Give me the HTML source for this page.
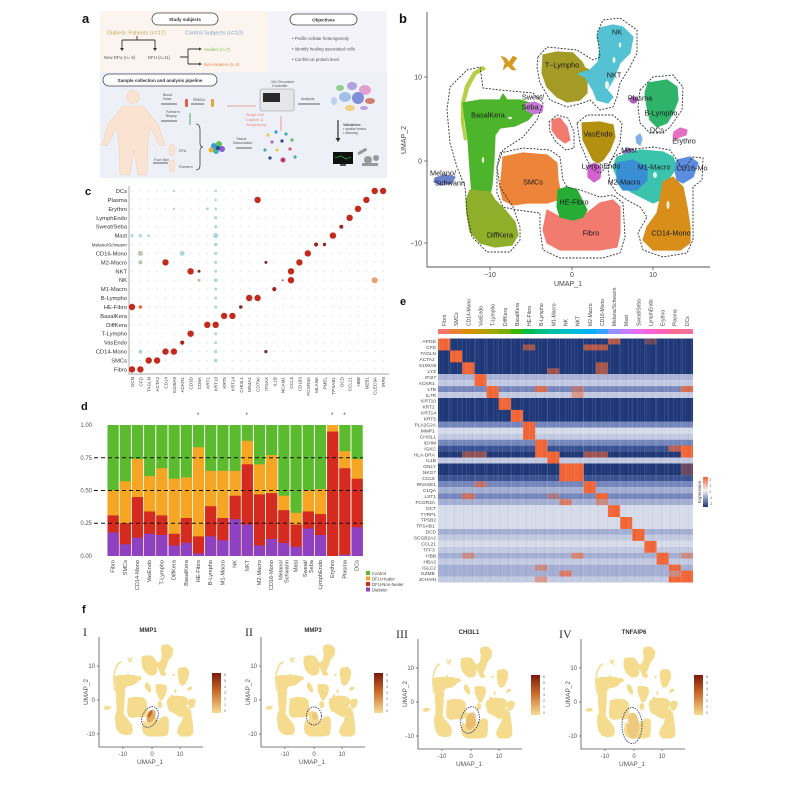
<!DOCTYPE html>
<html><head><meta charset="utf-8">
<style>
html,body{margin:0;padding:0;background:#fff;}
svg{display:block;font-family:"Liberation Sans",Arial,sans-serif;}
</style></head><body>
<svg width="796" height="796" viewBox="0 0 796 796" xmlns="http://www.w3.org/2000/svg" xmlns:xlink="http://www.w3.org/1999/xlink">
<defs>
 <g id="blobs">
  <path id="bStrip" d="M483,66 L486,69 L476,75 L469,88 L465,103 L464,122 L467,140 L464,140 L461,122 L461,103 L465,86 L473,72Z"/>
  <path id="bBasal" d="M463,103 L480,100 L500,100 L503,94 L507,100 L520,100 L533,104 L535,112 L528,120 L515,126 L500,128 L495,135 L494,160 L492,185 L490,195 L480,200 L472,195 L470,170 L468,140 L465,120Z"/>
  <path id="bDiff" d="M470,190 L490,192 L495,200 L505,210 L515,222 L518,235 L512,245 L495,247 L480,243 L470,232 L467,215 L466,200Z"/>
  <path id="bT" d="M543,55 L557,52 L573,53 L582,62 L585,68 L590,70 L587,80 L587,93 L580,100 L567,102 L557,97 L547,87 L542,73Z"/>
  <path id="bNK" d="M600,28 L613,25 L623,27 L633,37 L630,53 L620,63 L617,70 L613,80 L607,90 L613,97 L608,103 L597,100 L593,90 L585,77 L578,74 L590,70 L598,62 L600,48 L597,37Z"/>
  <path id="bB" d="M648,83 L667,80 L677,87 L678,100 L673,113 L667,123 L657,127 L650,120 L647,107 L645,93Z"/>
  <path id="bPlasma" d="M630,100 a3.5,3 0 1,0 7,0 a3.5,3 0 1,0 -7,0Z"/>
  <path id="bEry" d="M674,132 L680,128 L687,130 L686,135 L679,137 L676,140 L673,137Z"/>
  <path id="bMast" d="M623,153 L627,148 L633,149 L634,155 L628,158Z"/>
  <path id="bMastLB" d="M636,137 L640,134 L642,139 L640,145 L637,143Z"/>
  <path id="bVas" d="M582,123 L600,122 L613,125 L615,137 L610,150 L603,160 L598,163 L593,160 L588,150 L583,140Z"/>
  <path id="bLymphE" d="M588,166 L595,163 L601,168 L600,178 L594,182 L588,177Z"/>
  <path id="bM1" d="M617,157 L640,150 L663,152 L673,157 L677,167 L670,177 L667,187 L660,200 L653,203 L647,200 L633,193 L623,187 L617,177 L613,167Z"/>
  <path id="bM2" d="M617,163 L633,160 L647,167 L647,180 L637,190 L623,190 L617,182Z"/>
  <path id="bCD16" d="M677,160 L690,157 L698,163 L693,177 L683,183 L677,180 L675,170Z"/>
  <path id="bCD14" d="M663,182 L673,177 L683,187 L687,207 L690,227 L690,243 L680,250 L653,250 L643,240 L647,227 L657,213 L660,200Z"/>
  <path id="bSMC" d="M503,157 L523,153 L547,155 L557,163 L558,180 L560,190 L557,200 L547,203 L527,203 L513,205 L503,200 L500,187 L502,170Z"/>
  <path id="bFibro" d="M547,210 L560,217 L587,213 L600,203 L613,200 L620,207 L620,233 L617,247 L600,250 L560,250 L547,243 L543,230Z"/>
  <path id="bHE" d="M558,190 L567,187 L577,190 L582,200 L587,210 L583,217 L573,220 L560,217 L557,207Z"/>
  <path id="bFibro2" d="M552,120 L560,118 L567,127 L570,140 L565,143 L557,137 L552,130Z"/>
  <path id="bSweat" d="M525,104 L535,102 L543,106 L542,112 L533,114 L526,110Z"/>
  <path id="bMelano" d="M435,178 L445,175 L455,177 L452,183 L440,185 L434,182Z"/>
  <path id="bOrange" d="M501,56 L506,58 L509,62 L513,56 L517,58 L512,65 L516,70 L512,70 L508,66 L503,70 L505,63Z"/>
 </g>
 <linearGradient id="gF" x1="0" y1="0" x2="0" y2="1">
  <stop offset="0" stop-color="#7a1a0c"/><stop offset="0.45" stop-color="#c8692a"/><stop offset="1" stop-color="#f5dc92"/>
 </linearGradient>
 <linearGradient id="gE" x1="0" y1="0" x2="0" y2="1">
  <stop offset="0" stop-color="#f26536"/><stop offset="0.45" stop-color="#f4f2f4"/><stop offset="1" stop-color="#1d3578"/>
 </linearGradient>
 <pattern id="dotgrid" patternUnits="userSpaceOnUse" x="127.8" y="186.5" width="8.37" height="8.92">
  <circle cx="4.185" cy="4.46" r="0.7" fill="#cfe4ea"/>
 </pattern>
 <pattern id="streak" patternUnits="userSpaceOnUse" x="438" y="338" width="9" height="244">
  <rect x="1" y="0" width="0.6" height="244" fill="#ffffff" opacity="0.14"/>
  <rect x="4.5" y="0" width="0.4" height="244" fill="#ffffff" opacity="0.1"/>
  <rect x="7" y="0" width="0.5" height="244" fill="#000030" opacity="0.06"/>
 </pattern>
 <g id="fpanel">
  <g transform="translate(152,700) scale(0.35,0.41) translate(-572,-161)" fill="#f4db8e"><use xlink:href="#blobs" href="#blobs"/></g>
  <path d="M99,637 V747 H203" stroke="#555" stroke-width="0.8" fill="none"/>
  <path d="M97,666 H99 M97,700 H99 M97,734 H99 M123,747 V749 M152,747 V749 M180,747 V749" stroke="#555" stroke-width="0.7"/>
  <g font-size="6" fill="#555">
   <text x="95" y="668" text-anchor="end">10</text>
   <text x="95" y="702" text-anchor="end">0</text>
   <text x="95" y="736" text-anchor="end">-10</text>
   <text x="123" y="756" text-anchor="middle">-10</text>
   <text x="152" y="756" text-anchor="middle">0</text>
   <text x="180" y="756" text-anchor="middle">10</text>
   <text x="150" y="764" text-anchor="middle" font-size="6.5">UMAP_1</text>
   <text transform="translate(88,692) rotate(-90)" text-anchor="middle" font-size="6.5">UMAP_2</text>
  </g>
  <rect x="212" y="673" width="9" height="40" fill="url(#gF)"/>
  <g font-size="3.5" fill="#666">
   <text x="224" y="676">6</text><text x="224" y="682">5</text><text x="224" y="688">4</text><text x="224" y="694">3</text><text x="224" y="700">2</text><text x="224" y="706">1</text><text x="224" y="712">0</text>
  </g>
 </g>
</defs>

<!-- ================= PANEL A ================= -->
<rect x="100" y="11" width="168" height="61" fill="#fcf5ef"/>
<rect x="268" y="11" width="119" height="61" fill="#f5f3fa"/>
<rect x="100" y="72" width="287" height="106" fill="#eef0f8"/>
<text x="82" y="23" font-size="13" font-weight="bold" fill="#111">a</text>
<rect x="152" y="13" width="66" height="12" rx="6" fill="#fff" stroke="#444" stroke-width="0.8"/>
<text x="185" y="21" font-size="4.5" font-weight="bold" text-anchor="middle" fill="#333">Study subjects</text>
<rect x="290" y="14" width="67" height="11" rx="5.5" fill="#fff" stroke="#444" stroke-width="0.8"/>
<text x="323.5" y="21.5" font-size="4.5" font-weight="bold" text-anchor="middle" fill="#333">Objectives</text>
<text x="107" y="34.5" font-size="5.5" fill="#c9a55e">Diabetic Patients (n=17)</text>
<text x="185" y="34.5" font-size="5.5" fill="#7ea4c9">Control Subjects (n=10)</text>
<path d="M137,36 V40 M122,40 H155 M122,40 V49 M155,40 V49 M180,57 H188 M188,49 V64 M188,49 H199 M188,64 H199" stroke="#333" stroke-width="0.9" fill="none"/>
<path d="M120,48 L124,48 L122,51Z M153,48 L157,48 L155,51Z M199,47.5 L202,49 L199,50.5Z M199,62.5 L202,64 L199,65.5Z" fill="#333"/>
<text x="104" y="59" font-size="4.3" fill="#555">New DFU (n= 6)</text>
<text x="148" y="59" font-size="4.3" fill="#555">DFU (n=11)</text>
<text x="204" y="51" font-size="4.3" fill="#7cc24a">Healers (n=7)</text>
<text x="204" y="66" font-size="4.3" fill="#e8844a">Non-Healers (n=4)</text>
<g font-size="4.3" fill="#555">
 <text x="292" y="40">• Profile cellular heterogeneity</text>
 <text x="292" y="50.5">• Identify healing associated cells</text>
 <text x="292" y="61">• Confirm at protein level</text>
</g>
<rect x="103" y="74" width="114" height="12" rx="6" fill="#fff" stroke="#444" stroke-width="0.8"/>
<text x="160" y="82" font-size="4.5" font-weight="bold" text-anchor="middle" fill="#333">Sample collection and analysis pipeline</text>
<g fill="#fbe3d2" stroke="#efc8ae" stroke-width="0.4">
 <circle cx="133" cy="97" r="6.5"/>
 <path d="M123,106 L143,106 L158,124 L165,145 L160,146 L150,127 L148,145 L147,175 L138,175 L134,150 L130,175 L120,175 L119,145 L117,127 L107,146 L102,145 L108,124Z"/>
 <ellipse cx="172" cy="150" rx="3" ry="6"/>
 <ellipse cx="172" cy="166" rx="3" ry="6"/>
</g>
<g font-size="3.6" fill="#555">
 <text x="163" y="96">Blood</text><text x="163" y="100">Draw</text>
 <text x="193" y="101">PBMCs</text>
 <text x="166" y="113">Forearm</text><text x="166" y="117">Biopsy</text>
 <text x="179" y="152">DFU</text>
 <text x="154" y="161">Foot Skin</text>
 <text x="179" y="168">Forearm</text>
 <text x="236" y="140">Tissue</text><text x="233" y="144">Dissociation</text>
 <text x="271" y="83">10x Chromium</text><text x="272" y="87">Controller</text>
 <text x="301" y="100">Analysis</text>
 <text x="343" y="126" font-weight="bold">Validation:</text>
 <text x="343" y="130">• spatial omics</text>
 <text x="343" y="134">• staining</text>
</g>
<g font-size="3.8" fill="#e98a7a">
 <text x="246" y="116">Single Cell</text><text x="246" y="121">Capture &amp;</text><text x="246" y="126">Sequencing</text>
</g>
<path d="M161,104 H177 M191,104 H204 M161,121 H177 M153,163 H168 M236,148 H252 M298,104 H320" stroke="#333" stroke-width="0.7"/>
<path d="M227,106 H256 M281,131 V116" stroke="#e98a7a" stroke-width="0.8"/>
<rect x="185" y="99" width="3" height="8" rx="1" fill="#e0604a"/>
<rect x="211" y="99" width="3" height="8" rx="1" fill="#e9a43a"/>
<rect x="189" y="113" width="2" height="12" rx="1" fill="#9ad0b0"/>
<path d="M196,124 Q200,124 200,130 V143 Q200,147 203,147 Q200,147 200,151 V165 Q200,170 196,170" stroke="#444" stroke-width="0.8" fill="none"/>
<g>
 <circle cx="214" cy="146" r="3" fill="#3a9ad9"/><circle cx="219" cy="144" r="3" fill="#5ac05a"/><circle cx="222" cy="149" r="3" fill="#8a5ad0"/>
 <circle cx="216" cy="151" r="3" fill="#40b0b0"/><circle cx="211" cy="150" r="2.5" fill="#f0b030"/><circle cx="218" cy="148" r="2" fill="#2a4a8a"/>
</g>
<g>
 <circle cx="268" cy="135" r="1.6" fill="#e0d050"/><circle cx="276" cy="132" r="1.6" fill="#3a9ad9"/><circle cx="286" cy="134" r="1.6" fill="#40b0a0"/>
 <circle cx="272" cy="142" r="1.6" fill="#a070d0"/><circle cx="282" cy="141" r="1.6" fill="#2a4a8a"/><circle cx="292" cy="140" r="1.6" fill="#5ac05a"/>
 <circle cx="265" cy="150" r="1.6" fill="#40b0b0"/><circle cx="277" cy="150" r="1.6" fill="#e0d050"/><circle cx="290" cy="149" r="1.6" fill="#d05a7a"/>
 <circle cx="270" cy="158" r="1.6" fill="#2a4a8a"/><circle cx="283" cy="160" r="2.5" fill="#c03a6a"/><circle cx="295" cy="157" r="1.6" fill="#40b0b0"/>
</g>
<rect x="260" y="89" width="34" height="22" rx="2" fill="#e6e6ea" stroke="#999" stroke-width="0.6"/>
<rect x="263" y="93" width="17" height="9" fill="#2a2a2a"/>
<g>
 <ellipse cx="340" cy="88" rx="4" ry="3" fill="#8fd08a"/><ellipse cx="352" cy="86" rx="5" ry="4" fill="#b0a0e0"/><ellipse cx="365" cy="90" rx="6" ry="5" fill="#e0a0d0"/>
 <ellipse cx="345" cy="97" rx="6" ry="5" fill="#a0c0e8"/><ellipse cx="358" cy="98" rx="6" ry="6" fill="#8090d8"/><ellipse cx="370" cy="101" rx="5" ry="3" fill="#d08070"/>
 <ellipse cx="350" cy="108" rx="5" ry="3" fill="#f0d080"/><ellipse cx="334" cy="101" rx="3" ry="4" fill="#c0d0f0"/><ellipse cx="364" cy="108" rx="4" ry="2" fill="#c0a0e0"/>
</g>
<path d="M338,120 V139" stroke="#333" stroke-width="1.2"/><path d="M335.5,138 L340.5,138 L338,142Z" fill="#333"/>
<rect x="333" y="152" width="20" height="12" fill="#111"/><path d="M335,158 L341,156 L346,159 L351,157" stroke="#3c3" stroke-width="0.6" fill="none"/>
<rect x="340" y="164" width="6" height="2" fill="#555"/>
<g fill="#999"><rect x="357" y="150" width="10" height="3" rx="1" transform="rotate(-30 362 151)"/><circle cx="368" cy="160" r="4"/><rect x="362" y="163" width="16" height="3"/><circle cx="376" cy="158" r="3"/></g>

<!-- ================= PANEL B ================= -->
<text x="399" y="23" font-size="13" font-weight="bold" fill="#111">b</text>
<g stroke-linejoin="round" stroke-width="1.2">
 <use href="#bStrip" xlink:href="#bStrip" fill="#b5cf45" stroke="#b5cf45" stroke-width="0.3"/>
 <use href="#bBasal" xlink:href="#bBasal" fill="#4db52b" stroke="#4db52b"/>
 <use href="#bDiff" xlink:href="#bDiff" fill="#8fae2a" stroke="#8fae2a"/>
 <use href="#bT" xlink:href="#bT" fill="#a49b26" stroke="#a49b26"/>
 <use href="#bNK" xlink:href="#bNK" fill="#55c2d3" stroke="#55c2d3"/>
 <use href="#bB" xlink:href="#bB" fill="#2fb36a" stroke="#2fb36a"/>
 <use href="#bPlasma" xlink:href="#bPlasma" fill="#b45cc4" stroke="#b45cc4"/>
 <use href="#bEry" xlink:href="#bEry" fill="#e56fc3" stroke="#e56fc3"/>
 <use href="#bMast" xlink:href="#bMast" fill="#9a80dc" stroke="#9a80dc"/>
 <use href="#bMastLB" xlink:href="#bMastLB" fill="#7fb0e6" stroke="#7fb0e6"/>
 <use href="#bVas" xlink:href="#bVas" fill="#b3900f" stroke="#b3900f"/>
 <use href="#bLymphE" xlink:href="#bLymphE" fill="#d262d2" stroke="#d262d2"/>
 <use href="#bM1" xlink:href="#bM1" fill="#3cc3ad" stroke="#3cc3ad"/>
 <use href="#bM2" xlink:href="#bM2" fill="#3a8ed4" stroke="#3a8ed4"/>
 <use href="#bCD16" xlink:href="#bCD16" fill="#5b8de0" stroke="#5b8de0"/>
 <use href="#bCD14" xlink:href="#bCD14" fill="#d88e19" stroke="#d88e19"/>
 <use href="#bSMC" xlink:href="#bSMC" fill="#ec853a" stroke="#ec853a"/>
 <use href="#bFibro" xlink:href="#bFibro" fill="#f27b70" stroke="#f27b70"/>
 <use href="#bHE" xlink:href="#bHE" fill="#27ad35" stroke="#27ad35"/>
 <use href="#bFibro2" xlink:href="#bFibro2" fill="#f27b70" stroke="#f27b70"/>
 <use href="#bSweat" xlink:href="#bSweat" fill="#c57bd5" stroke="#c57bd5"/>
 <use href="#bMelano" xlink:href="#bMelano" fill="#6a80c8" stroke="#6a80c8"/>
 <use href="#bOrange" xlink:href="#bOrange" fill="#d59b1f" stroke="#d59b1f" stroke-width="0.5"/>
</g>
<g fill="#fff" opacity="0.85">
 <ellipse cx="607" cy="85" rx="2" ry="4"/><ellipse cx="614" cy="60" rx="1.5" ry="3"/><ellipse cx="620" cy="45" rx="1.2" ry="2.5"/>
 <ellipse cx="483" cy="160" rx="1.2" ry="3"/><ellipse cx="510" cy="118" rx="2" ry="1.2"/><ellipse cx="655" cy="175" rx="2" ry="3"/>
 <ellipse cx="668" cy="205" rx="1.5" ry="4"/>
</g>
<g fill="none" stroke="#333" stroke-width="0.9" stroke-dasharray="2,1.4" stroke-linejoin="round">
 <path d="M480,67 L483,88 L500,90 L533,93 L543,103 L537,120 L523,137 L503,150 L497,167 L500,187 L513,207 L520,227 L520,240 L510,252 L487,252 L472,237 L467,213 L465,187 L457,167 L450,143 L447,110 L450,87 L467,70Z"/>
 <path d="M538,57 L547,47 L577,50 L593,60 L600,57 L597,33 L603,20 L620,18 L637,30 L637,53 L630,67 L620,83 L617,97 L613,107 L600,110 L590,100 L583,103 L567,107 L550,100 L540,83 L537,67Z"/>
 <path d="M640,90 L653,77 L673,75 L683,87 L682,110 L670,127 L663,133 L650,133 L640,123 L638,107Z"/>
 <path d="M577,123 L587,115 L613,115 L622,123 L620,143 L613,157 L607,167 L600,173 L593,170 L587,160 L580,143Z"/>
 <path d="M613,157 L627,150 L653,147 L670,150 L677,160 L683,170 L693,157 L703,158 L702,180 L693,187 L693,240 L687,253 L663,257 L643,250 L638,233 L647,217 L640,207 L627,200 L617,193 L610,183 L608,167Z"/>
 <path d="M500,153 L523,148 L550,150 L560,157 L563,180 L567,187 L580,190 L600,197 L613,195 L623,203 L625,237 L620,253 L603,258 L560,258 L543,250 L540,230 L540,213 L517,210 L503,207 L497,193 L497,167Z"/>
 <path d="M549,122 L557,115 L568,118 L574,132 L574,148 L566,150 L556,142 L550,132Z"/>
</g>
<path d="M427,12 V267 H710" stroke="#555" stroke-width="0.9" fill="none"/>
<path d="M424,77 H427 M424,161 H427 M424,243 H427 M490,267 V270 M572,267 V270 M653,267 V270" stroke="#555" stroke-width="0.8"/>
<g font-size="7" fill="#444">
 <text x="422" y="79.5" text-anchor="end">10</text>
 <text x="422" y="163.5" text-anchor="end">0</text>
 <text x="422" y="245.5" text-anchor="end">−10</text>
 <text x="490" y="277" text-anchor="middle">−10</text>
 <text x="572" y="277" text-anchor="middle">0</text>
 <text x="653" y="277" text-anchor="middle">10</text>
 <text x="568" y="286" text-anchor="middle">UMAP_1</text>
 <text transform="translate(406,140) rotate(-90)" text-anchor="middle">UMAP_2</text>
</g>
<g font-size="7.3" fill="#1a1a1a" text-anchor="middle">
 <text x="617" y="34.5">NK</text>
 <text x="562" y="67.5">T−Lympho</text>
 <text x="614" y="77.5">NKT</text>
 <text x="640" y="100.5">Plasma</text>
 <text x="661" y="115.5">B-Lympho</text>
 <text x="657" y="132.5">DCs</text>
 <text x="684" y="143.5">Erythro</text>
 <text x="629" y="152.5">Mast</text>
 <text x="598" y="136.5">VasEndo</text>
 <text x="533" y="99.5">Sweat/</text>
 <text x="530" y="109.5">Seba</text>
 <text x="488" y="117.5">BasalKera</text>
 <text x="601" y="168.5">LymphEndo</text>
 <text x="692" y="170.5">CD16-Mo</text>
 <text x="654" y="169.5">M1-Macro</text>
 <text x="624" y="184.5">M2-Macro</text>
 <text x="533" y="184.5">SMCs</text>
 <text x="574" y="204.5">HE-Fibro</text>
 <text x="591" y="235.5">Fibro</text>
 <text x="671" y="235.5">CD14-Mono</text>
 <text x="500" y="237.5">DiffKera</text>
 <text x="443" y="175.5">Melano/</text>
 <text x="450" y="185.5">Schwann</text>
</g>

<!-- ================= PANEL C ================= -->
<text x="85" y="195" font-size="11" font-weight="bold" fill="#111">c</text>
<rect x="128" y="186.5" width="260" height="187" fill="url(#dotgrid)"/>
<path d="M129,186 V374 H389" stroke="#888" stroke-width="0.7" fill="none"/>
<g font-size="5.8" fill="#333" text-anchor="end">
 <text x="127" y="193">DCs</text><text x="127" y="201.9">Plasma</text><text x="127" y="210.8">Erythro</text>
 <text x="127" y="219.8">LymphEndo</text><text x="127" y="228.7">Sweat/Seba</text><text x="127" y="237.6">Mast</text>
 <text x="127" y="246.5" font-size="4.6">Melano/Schwann</text><text x="127" y="255.4">CD16-Mono</text><text x="127" y="264.4">M2-Macro</text>
 <text x="127" y="273.3">NKT</text><text x="127" y="282.2">NK</text><text x="127" y="291.1">M1-Macro</text>
 <text x="127" y="300">B-Lympho</text><text x="127" y="309">HE-Fibro</text><text x="127" y="317.9">BasalKera</text>
 <text x="127" y="326.8">DiffKera</text><text x="127" y="335.7">T-Lympho</text><text x="127" y="344.6">VasEndo</text>
 <text x="127" y="353.6">CD14-Mono</text><text x="127" y="362.5">SMCs</text><text x="127" y="371.4">Fibro</text>
</g>
<g fill="#a9d6df">
 <circle cx="215.7" cy="191" r="1.3"/><circle cx="215.7" cy="199.9" r="1.3"/><circle cx="215.7" cy="208.8" r="1.3"/><circle cx="215.7" cy="217.8" r="1.6"/>
 <circle cx="215.7" cy="226.7" r="1.6"/><circle cx="215.7" cy="235.6" r="2.6"/><circle cx="215.7" cy="244.5" r="1.8"/><circle cx="215.7" cy="253.4" r="1.6"/>
 <circle cx="215.7" cy="262.4" r="1.5"/><circle cx="215.7" cy="271.3" r="1.5"/><circle cx="215.7" cy="280.2" r="1.8"/><circle cx="215.7" cy="289.1" r="1.5"/>
 <circle cx="215.7" cy="298" r="1.5"/><circle cx="215.7" cy="307" r="1.6"/><circle cx="215.7" cy="333.7" r="1.5"/><circle cx="215.7" cy="342.6" r="1.5"/>
 <circle cx="215.7" cy="351.6" r="1.6"/><circle cx="215.7" cy="360.5" r="1.8"/>
 <circle cx="132" cy="235.6" r="1.6"/><circle cx="140.4" cy="235.6" r="1.6"/><circle cx="148.7" cy="235.6" r="1.4"/>
 <circle cx="173.9" cy="191" r="1.2"/><circle cx="173.9" cy="208.8" r="1.2"/><circle cx="207.3" cy="208.8" r="1.4"/>
 <circle cx="140.4" cy="351.6" r="2"/><circle cx="182.2" cy="253.4" r="2.4"/>
</g>
<g fill="#b9c9a8"><circle cx="140.4" cy="253.4" r="2.5"/><circle cx="140.4" cy="262.4" r="2"/><circle cx="199" cy="280.2" r="1.6"/></g>
<g fill="#c42a1c">
 <circle cx="374.7" cy="191" r="3.2"/><circle cx="383.1" cy="191" r="3.2"/>
 <circle cx="366.4" cy="199.9" r="3.2"/><circle cx="257.6" cy="199.9" r="3.2"/>
 <circle cx="358" cy="208.8" r="3.2"/>
 <circle cx="349.6" cy="217.8" r="3.2"/>
 <circle cx="341.3" cy="226.7" r="2" fill="#a0281c"/>
 <circle cx="332.9" cy="235.6" r="3.2"/>
 <circle cx="316.1" cy="244.5" r="2.1" fill="#a0281c"/><circle cx="324.5" cy="244.5" r="1.7" fill="#8a2a1c"/>
 <circle cx="307.8" cy="253.4" r="3.2"/>
 <circle cx="165.5" cy="262.4" r="3.2"/><circle cx="299.4" cy="262.4" r="3.2"/><circle cx="265.9" cy="262.4" r="1.5" fill="#7a2a1c"/>
 <circle cx="190.6" cy="271.3" r="3.2"/><circle cx="199" cy="271.3" r="1.5" fill="#8a2a1c"/><circle cx="291" cy="271.3" r="3.2"/>
 <circle cx="291" cy="280.2" r="3.2"/><circle cx="374.7" cy="280.2" r="3" fill="#eea06c"/><circle cx="282.7" cy="280.2" r="1" fill="#aa5a4c"/>
 <circle cx="274.3" cy="289.1" r="2.1" fill="#a0281c"/>
 <circle cx="249.2" cy="298" r="3.2"/><circle cx="257.6" cy="298" r="3.2"/>
 <circle cx="132" cy="307" r="3.2"/><circle cx="140.4" cy="307" r="1.8" fill="#e07040"/><circle cx="240.8" cy="307" r="1.8" fill="#8a2a1c"/>
 <circle cx="224.1" cy="315.9" r="3.2"/><circle cx="232.4" cy="315.9" r="3.2"/>
 <circle cx="207.3" cy="324.8" r="3.2"/><circle cx="215.7" cy="324.8" r="3.2"/>
 <circle cx="190.6" cy="333.7" r="3.2"/>
 <circle cx="182.2" cy="342.6" r="2.1" fill="#a0281c"/>
 <circle cx="165.5" cy="351.6" r="3.2"/><circle cx="173.9" cy="351.6" r="3.2"/><circle cx="265.9" cy="351.6" r="1.6" fill="#7a2a1c"/>
 <circle cx="148.7" cy="360.5" r="3.2"/><circle cx="157.1" cy="360.5" r="3.2"/>
 <circle cx="132" cy="369.4" r="3.2"/><circle cx="140.4" cy="369.4" r="3.2"/>
</g>
<g font-size="4.6" fill="#444" text-anchor="end">
 <text transform="translate(134,377) rotate(-90)">DCN</text>
 <text transform="translate(142.4,377) rotate(-90)">CFD</text>
 <text transform="translate(150.7,377) rotate(-90)">TAGLN</text>
 <text transform="translate(159.1,377) rotate(-90)">ACTA2</text>
 <text transform="translate(167.5,377) rotate(-90)">CD14</text>
 <text transform="translate(175.9,377) rotate(-90)">S100A9</text>
 <text transform="translate(184.2,377) rotate(-90)">ACKR1</text>
 <text transform="translate(192.6,377) rotate(-90)">CD3D</text>
 <text transform="translate(201,377) rotate(-90)">CD8A</text>
 <text transform="translate(209.3,377) rotate(-90)">KRT1</text>
 <text transform="translate(217.7,377) rotate(-90)">KRT10</text>
 <text transform="translate(226.1,377) rotate(-90)">KRT5</text>
 <text transform="translate(234.4,377) rotate(-90)">KRT14</text>
 <text transform="translate(242.8,377) rotate(-90)">CHI3L1</text>
 <text transform="translate(251.2,377) rotate(-90)">MS4A1</text>
 <text transform="translate(259.6,377) rotate(-90)">CD79A</text>
 <text transform="translate(267.9,377) rotate(-90)">ITGAX</text>
 <text transform="translate(276.3,377) rotate(-90)">IL1B</text>
 <text transform="translate(284.7,377) rotate(-90)">NCAM1</text>
 <text transform="translate(293,377) rotate(-90)">CCL5</text>
 <text transform="translate(301.4,377) rotate(-90)">CD163</text>
 <text transform="translate(309.8,377) rotate(-90)">FCGR3A</text>
 <text transform="translate(318.1,377) rotate(-90)">MLANA</text>
 <text transform="translate(326.5,377) rotate(-90)">PMEL</text>
 <text transform="translate(334.9,377) rotate(-90)">TPSAB1</text>
 <text transform="translate(343.3,377) rotate(-90)">DCD</text>
 <text transform="translate(351.6,377) rotate(-90)">CCL21</text>
 <text transform="translate(360,377) rotate(-90)">HBB</text>
 <text transform="translate(368.4,377) rotate(-90)">MZB1</text>
 <text transform="translate(376.7,377) rotate(-90)">CLEC9A</text>
 <text transform="translate(385.1,377) rotate(-90)">IRF8</text>
</g>

<!-- ================= PANEL D ================= -->
<text x="81" y="410" font-size="11" font-weight="bold" fill="#111">d</text>
<svg x="107" y="425" width="256.2" height="131" viewBox="0 0 21 1" preserveAspectRatio="none">
 <g>
  <rect x="0.04" y="0" width="0.92" height="1" fill="#5cba2e"/><rect x="0.04" y="0.5" width="0.92" height="0.5" fill="#f6a623"/><rect x="0.04" y="0.69" width="0.92" height="0.31" fill="#d42a1f"/><rect x="0.04" y="0.82" width="0.92" height="0.18" fill="#8e42c2"/>
  <rect x="1.04" y="0" width="0.92" height="1" fill="#5cba2e"/><rect x="1.04" y="0.43" width="0.92" height="0.57" fill="#f6a623"/><rect x="1.04" y="0.75" width="0.92" height="0.25" fill="#d42a1f"/><rect x="1.04" y="0.91" width="0.92" height="0.09" fill="#8e42c2"/>
  <rect x="2.04" y="0" width="0.92" height="1" fill="#5cba2e"/><rect x="2.04" y="0.26" width="0.92" height="0.74" fill="#f6a623"/><rect x="2.04" y="0.55" width="0.92" height="0.45" fill="#d42a1f"/><rect x="2.04" y="0.86" width="0.92" height="0.14" fill="#8e42c2"/>
  <rect x="3.04" y="0" width="0.92" height="1" fill="#5cba2e"/><rect x="3.04" y="0.39" width="0.92" height="0.61" fill="#f6a623"/><rect x="3.04" y="0.66" width="0.92" height="0.34" fill="#d42a1f"/><rect x="3.04" y="0.83" width="0.92" height="0.17" fill="#8e42c2"/>
  <rect x="4.04" y="0" width="0.92" height="1" fill="#5cba2e"/><rect x="4.04" y="0.33" width="0.92" height="0.67" fill="#f6a623"/><rect x="4.04" y="0.69" width="0.92" height="0.31" fill="#d42a1f"/><rect x="4.04" y="0.84" width="0.92" height="0.16" fill="#8e42c2"/>
  <rect x="5.04" y="0" width="0.92" height="1" fill="#5cba2e"/><rect x="5.04" y="0.41" width="0.92" height="0.59" fill="#f6a623"/><rect x="5.04" y="0.83" width="0.92" height="0.17" fill="#d42a1f"/><rect x="5.04" y="0.92" width="0.92" height="0.08" fill="#8e42c2"/>
  <rect x="6.04" y="0" width="0.92" height="1" fill="#5cba2e"/><rect x="6.04" y="0.40" width="0.92" height="0.60" fill="#f6a623"/><rect x="6.04" y="0.71" width="0.92" height="0.29" fill="#d42a1f"/><rect x="6.04" y="0.90" width="0.92" height="0.10" fill="#8e42c2"/>
  <rect x="7.04" y="0" width="0.92" height="1" fill="#5cba2e"/><rect x="7.04" y="0.17" width="0.92" height="0.83" fill="#f6a623"/><rect x="7.04" y="0.85" width="0.92" height="0.15" fill="#d42a1f"/><rect x="7.04" y="0.98" width="0.92" height="0.02" fill="#8e42c2"/>
  <rect x="8.04" y="0" width="0.92" height="1" fill="#5cba2e"/><rect x="8.04" y="0.35" width="0.92" height="0.65" fill="#f6a623"/><rect x="8.04" y="0.62" width="0.92" height="0.38" fill="#d42a1f"/><rect x="8.04" y="0.85" width="0.92" height="0.15" fill="#8e42c2"/>
  <rect x="9.04" y="0" width="0.92" height="1" fill="#5cba2e"/><rect x="9.04" y="0.35" width="0.92" height="0.65" fill="#f6a623"/><rect x="9.04" y="0.71" width="0.92" height="0.29" fill="#d42a1f"/><rect x="9.04" y="0.88" width="0.92" height="0.12" fill="#8e42c2"/>
  <rect x="10.04" y="0" width="0.92" height="1" fill="#5cba2e"/><rect x="10.04" y="0.35" width="0.92" height="0.65" fill="#f6a623"/><rect x="10.04" y="0.54" width="0.92" height="0.46" fill="#d42a1f"/><rect x="10.04" y="0.72" width="0.92" height="0.28" fill="#8e42c2"/>
  <rect x="11.04" y="0" width="0.92" height="1" fill="#5cba2e"/><rect x="11.04" y="0.12" width="0.92" height="0.88" fill="#f6a623"/><rect x="11.04" y="0.30" width="0.92" height="0.70" fill="#d42a1f"/><rect x="11.04" y="0.76" width="0.92" height="0.24" fill="#8e42c2"/>
  <rect x="12.04" y="0" width="0.92" height="1" fill="#5cba2e"/><rect x="12.04" y="0.30" width="0.92" height="0.70" fill="#f6a623"/><rect x="12.04" y="0.53" width="0.92" height="0.47" fill="#d42a1f"/><rect x="12.04" y="0.92" width="0.92" height="0.08" fill="#8e42c2"/>
  <rect x="13.04" y="0" width="0.92" height="1" fill="#5cba2e"/><rect x="13.04" y="0.23" width="0.92" height="0.77" fill="#f6a623"/><rect x="13.04" y="0.52" width="0.92" height="0.48" fill="#d42a1f"/><rect x="13.04" y="0.87" width="0.92" height="0.13" fill="#8e42c2"/>
  <rect x="14.04" y="0" width="0.92" height="1" fill="#5cba2e"/><rect x="14.04" y="0.54" width="0.92" height="0.46" fill="#f6a623"/><rect x="14.04" y="0.65" width="0.92" height="0.35" fill="#d42a1f"/><rect x="14.04" y="0.90" width="0.92" height="0.10" fill="#8e42c2"/>
  <rect x="15.04" y="0" width="0.92" height="1" fill="#5cba2e"/><rect x="15.04" y="0.67" width="0.92" height="0.33" fill="#f6a623"/><rect x="15.04" y="0.76" width="0.92" height="0.24" fill="#d42a1f"/><rect x="15.04" y="0.93" width="0.92" height="0.07" fill="#8e42c2"/>
  <rect x="16.04" y="0" width="0.92" height="1" fill="#5cba2e"/><rect x="16.04" y="0.50" width="0.92" height="0.50" fill="#f6a623"/><rect x="16.04" y="0.66" width="0.92" height="0.34" fill="#d42a1f"/><rect x="16.04" y="0.79" width="0.92" height="0.21" fill="#8e42c2"/>
  <rect x="17.04" y="0" width="0.92" height="1" fill="#5cba2e"/><rect x="17.04" y="0.49" width="0.92" height="0.51" fill="#f6a623"/><rect x="17.04" y="0.68" width="0.92" height="0.32" fill="#d42a1f"/><rect x="17.04" y="0.84" width="0.92" height="0.16" fill="#8e42c2"/>
  <rect x="18.04" y="0" width="0.92" height="1" fill="#f6a623"/><rect x="18.04" y="0.05" width="0.92" height="0.95" fill="#d42a1f"/>
  <rect x="19.04" y="0" width="0.92" height="1" fill="#5cba2e"/><rect x="19.04" y="0.20" width="0.92" height="0.80" fill="#f6a623"/><rect x="19.04" y="0.33" width="0.92" height="0.67" fill="#d42a1f"/><rect x="19.04" y="0.99" width="0.92" height="0.01" fill="#8e42c2"/>
  <rect x="20.04" y="0" width="0.92" height="1" fill="#5cba2e"/><rect x="20.04" y="0.26" width="0.92" height="0.74" fill="#f6a623"/><rect x="20.04" y="0.41" width="0.92" height="0.59" fill="#d42a1f"/><rect x="20.04" y="0.78" width="0.92" height="0.22" fill="#8e42c2"/>
 </g>
</svg>
<path d="M94,457.75 H363 M94,490.5 H363 M94,523.25 H363" stroke="#111" stroke-width="1.1" stroke-dasharray="4,3"/>
<g font-size="6" fill="#555" text-anchor="end">
 <text x="92" y="427">1.00</text><text x="92" y="460">0.75</text><text x="92" y="492.5">0.50</text><text x="92" y="525">0.25</text><text x="92" y="558">0.00</text>
</g>
<g font-size="6" fill="#333" text-anchor="middle">
 <text x="198" y="417">*</text><text x="246.8" y="417">*</text><text x="332.2" y="417">*</text><text x="344.4" y="417">*</text>
</g>
<g font-size="5.6" fill="#444" text-anchor="end">
 <text transform="translate(114.6,560) rotate(-90)">Fibro</text>
 <text transform="translate(126.8,560) rotate(-90)">SMCs</text>
 <text transform="translate(139,560) rotate(-90)">CD14-Mono</text>
 <text transform="translate(151.2,560) rotate(-90)">VasEndo</text>
 <text transform="translate(163.4,560) rotate(-90)">T-Lympho</text>
 <text transform="translate(175.6,560) rotate(-90)">DiffKera</text>
 <text transform="translate(187.8,560) rotate(-90)">BasalKera</text>
 <text transform="translate(200,560) rotate(-90)">HE-Fibro</text>
 <text transform="translate(212.2,560) rotate(-90)">B-Lympho</text>
 <text transform="translate(224.4,560) rotate(-90)">M1-Macro</text>
 <text transform="translate(236.6,560) rotate(-90)">NK</text>
 <text transform="translate(248.8,560) rotate(-90)">NKT</text>
 <text transform="translate(261,560) rotate(-90)">M2-Macro</text>
 <text transform="translate(273.2,560) rotate(-90)">CD16-Mono</text>
 <text transform="translate(282.4,560) rotate(-90)">Melano/</text>
 <text transform="translate(288.4,560) rotate(-90)">Schwann</text>
 <text transform="translate(297.6,560) rotate(-90)">Mast</text>
 <text transform="translate(306.8,560) rotate(-90)">Sweat/</text>
 <text transform="translate(312.8,560) rotate(-90)">Seba</text>
 <text transform="translate(322,560) rotate(-90)">LymphEndo</text>
 <text transform="translate(334.2,560) rotate(-90)">Erythro</text>
 <text transform="translate(346.4,560) rotate(-90)">Plasma</text>
 <text transform="translate(358.6,560) rotate(-90)">DCs</text>
</g>
<g font-size="4.3" fill="#444">
 <rect x="366" y="571" width="4" height="4" fill="#5cba2e"/><text x="372" y="574.8">Control</text>
 <rect x="366" y="576.5" width="4" height="4" fill="#f6a623"/><text x="372" y="580.3">DFU-Healer</text>
 <rect x="366" y="582" width="4" height="4" fill="#d42a1f"/><text x="372" y="585.8">DFU-Non-healer</text>
 <rect x="366" y="587.5" width="4" height="4" fill="#8e42c2"/><text x="372" y="591.3">Diabetic</text>
</g>

<!-- ================= PANEL E ================= -->
<text x="400" y="305" font-size="11" font-weight="bold" fill="#111">e</text>
<g font-size="5" fill="#444">
 <text transform="translate(446.1,326) rotate(-90)">Fibro</text>
 <text transform="translate(458.2,326) rotate(-90)">SMCs</text>
 <text transform="translate(470.4,326) rotate(-90)">CD14-Mono</text>
 <text transform="translate(482.5,326) rotate(-90)">VasEndo</text>
 <text transform="translate(494.6,326) rotate(-90)">T-Lympho</text>
 <text transform="translate(506.8,326) rotate(-90)">DiffKera</text>
 <text transform="translate(518.9,326) rotate(-90)">BasalKera</text>
 <text transform="translate(531.1,326) rotate(-90)">HE-Fibro</text>
 <text transform="translate(543.2,326) rotate(-90)">B-Lympho</text>
 <text transform="translate(555.3,326) rotate(-90)">M1-Macro</text>
 <text transform="translate(567.5,326) rotate(-90)">NK</text>
 <text transform="translate(579.6,326) rotate(-90)">NKT</text>
 <text transform="translate(591.8,326) rotate(-90)">M2-Macro</text>
 <text transform="translate(603.9,326) rotate(-90)">CD16-Mono</text>
 <text transform="translate(616,326) rotate(-90)">Melano/Schwann</text>
 <text transform="translate(628.2,326) rotate(-90)">Mast</text>
 <text transform="translate(640.3,326) rotate(-90)">Sweat/Seba</text>
 <text transform="translate(652.5,326) rotate(-90)">LymphEndo</text>
 <text transform="translate(664.6,326) rotate(-90)">Erythro</text>
 <text transform="translate(676.7,326) rotate(-90)">Plasma</text>
 <text transform="translate(688.9,326) rotate(-90)">DCs</text>
</g>
<svg x="438" y="329" width="255" height="5" viewBox="0 0 21 1" preserveAspectRatio="none">
 <rect x="0" y="0" width="1.05" height="1" fill="#F8766D"/><rect x="1" y="0" width="1.05" height="1" fill="#EA8331"/><rect x="2" y="0" width="1.05" height="1" fill="#D89000"/>
 <rect x="3" y="0" width="1.05" height="1" fill="#C09B00"/><rect x="4" y="0" width="1.05" height="1" fill="#A3A500"/><rect x="5" y="0" width="1.05" height="1" fill="#7CAE00"/>
 <rect x="6" y="0" width="1.05" height="1" fill="#39B600"/><rect x="7" y="0" width="1.05" height="1" fill="#00BB4E"/><rect x="8" y="0" width="1.05" height="1" fill="#00BF7D"/>
 <rect x="9" y="0" width="1.05" height="1" fill="#00C1A3"/><rect x="10" y="0" width="1.05" height="1" fill="#00BFC4"/><rect x="11" y="0" width="1.05" height="1" fill="#00BAE0"/>
 <rect x="12" y="0" width="1.05" height="1" fill="#00B0F6"/><rect x="13" y="0" width="1.05" height="1" fill="#35A2FF"/><rect x="14" y="0" width="1.05" height="1" fill="#9590FF"/>
 <rect x="15" y="0" width="1.05" height="1" fill="#C77CFF"/><rect x="16" y="0" width="1.05" height="1" fill="#E76BF3"/><rect x="17" y="0" width="1.05" height="1" fill="#FA62DB"/>
 <rect x="18" y="0" width="1.05" height="1" fill="#FF62BC"/><rect x="19" y="0" width="1.05" height="1" fill="#FF6C91"/><rect x="20" y="0" width="1" height="1" fill="#F5709A"/>
</svg>
<svg x="438" y="338.5" width="255" height="244" viewBox="0 0 21 41" preserveAspectRatio="none">
 <g>
  <rect x="0" y="0" width="21" height="6" fill="#1f3877"/>
  <rect x="0" y="6" width="21" height="1" fill="#aab4d6"/>
  <rect x="0" y="7" width="21" height="1" fill="#c2c9e1"/>
  <rect x="0" y="8" width="21" height="1" fill="#7486bb"/>
  <rect x="0" y="9" width="21" height="1" fill="#c2c9e1"/>
  <rect x="0" y="10" width="21" height="4" fill="#1f3877"/>
  <rect x="0" y="14" width="21" height="1" fill="#7486bb"/>
  <rect x="0" y="15" width="21" height="1" fill="#d6dbea"/>
  <rect x="0" y="16" width="21" height="1" fill="#c2c9e1"/>
  <rect x="0" y="17" width="21" height="1" fill="#7486bb"/>
  <rect x="0" y="18" width="21" height="1" fill="#3a5294"/>
  <rect x="0" y="19" width="21" height="1" fill="#1f3877"/>
  <rect x="0" y="20" width="21" height="1" fill="#c2c9e1"/>
  <rect x="0" y="21" width="21" height="2" fill="#1f3877"/>
  <rect x="0" y="23" width="21" height="1" fill="#3a5294"/>
  <rect x="0" y="24" width="21" height="1" fill="#7486bb"/>
  <rect x="0" y="25" width="21" height="1" fill="#a3aed2"/>
  <rect x="0" y="26" width="21" height="1" fill="#7486bb"/>
  <rect x="0" y="27" width="21" height="1" fill="#a3aed2"/>
  <rect x="0" y="28" width="21" height="4" fill="#d6dbea"/>
  <rect x="0" y="32" width="21" height="1" fill="#a3aed2"/>
  <rect x="0" y="33" width="21" height="1" fill="#c2c9e1"/>
  <rect x="0" y="34" width="21" height="1" fill="#d6dbea"/>
  <rect x="0" y="35" width="21" height="1" fill="#c2c9e1"/>
  <rect x="0" y="36" width="21" height="1" fill="#a3aed2"/>
  <rect x="0" y="37" width="21" height="1" fill="#c2c9e1"/>
  <rect x="0" y="38" width="21" height="2" fill="#a3aed2"/>
  <rect x="0" y="40" width="21" height="1" fill="#c2c9e1"/>
 </g>
 <g fill="#f26536">
  <rect x="0" y="0" width="1" height="2"/><rect x="14" y="0" width="1" height="1" opacity="0.7"/><rect x="17" y="0" width="1" height="1" opacity="0.35"/>
  <rect x="7" y="1" width="1" height="1" opacity="0.6"/><rect x="12" y="1" width="2" height="1" opacity="0.7"/>
  <rect x="1" y="2" width="1" height="2"/>
  <rect x="2" y="4" width="1" height="2"/><rect x="13" y="4" width="1" height="2" opacity="0.65"/><rect x="9" y="5" width="1" height="1" opacity="0.6"/>
  <rect x="3" y="6" width="1" height="2"/>
  <rect x="4" y="8" width="1" height="2"/><rect x="8" y="8" width="1" height="1" opacity="0.8"/><rect x="11" y="8" width="1" height="2" opacity="0.5"/><rect x="20" y="8" width="1" height="1" opacity="0.8"/>
  <rect x="5" y="10" width="1" height="2"/>
  <rect x="6" y="12" width="1" height="2"/>
  <rect x="7" y="14" width="1" height="3"/>
  <rect x="8" y="17" width="1" height="3"/><rect x="19" y="18" width="1" height="1" opacity="0.7"/><rect x="20" y="18" width="1" height="2"/>
  <rect x="9" y="19" width="1" height="2"/><rect x="2" y="19" width="2" height="1" opacity="0.55"/><rect x="12" y="19" width="2" height="1" opacity="0.6"/>
  <rect x="10" y="21" width="2" height="3"/><rect x="20" y="21" width="1" height="2" opacity="0.35"/>
  <rect x="12" y="24" width="1" height="2"/><rect x="3" y="24" width="1" height="1" opacity="0.6"/>
  <rect x="13" y="26" width="1" height="1"/><rect x="2" y="26" width="1" height="1" opacity="0.7"/><rect x="9" y="26" width="1" height="1" opacity="0.4"/>
  <rect x="10" y="27" width="1" height="1" opacity="0.7"/><rect x="13" y="27" width="1" height="1" opacity="0.5"/>
  <rect x="14" y="28" width="1" height="2"/>
  <rect x="15" y="30" width="1" height="2"/>
  <rect x="16" y="32" width="1" height="2"/>
  <rect x="17" y="34" width="1" height="2"/>
  <rect x="18" y="36" width="1" height="2"/><rect x="2" y="36" width="1" height="1" opacity="0.5"/><rect x="11" y="36" width="1" height="1" opacity="0.6"/><rect x="20" y="36" width="1" height="1" opacity="0.5"/>
  <rect x="19" y="38" width="1" height="1"/><rect x="8" y="38" width="1" height="1" opacity="0.5"/>
  <rect x="20" y="39" width="1" height="1"/><rect x="10" y="39" width="1" height="1" opacity="0.7"/><rect x="19" y="39" width="1" height="1" opacity="0.5"/>
  <rect x="19" y="40" width="2" height="1"/><rect x="8" y="40" width="1" height="1" opacity="0.5"/>
 </g>
 <g stroke="#ffffff" stroke-opacity="0.25" stroke-width="0.04">
  <path d="M1,0V41M2,0V41M3,0V41M4,0V41M5,0V41M6,0V41M7,0V41M8,0V41M9,0V41M10,0V41M11,0V41M12,0V41M13,0V41M14,0V41M15,0V41M16,0V41M17,0V41M18,0V41M19,0V41M20,0V41"/>
 </g>
</svg>
<rect x="438" y="338.5" width="255" height="244" fill="url(#streak)"/>
<text x="436" font-size="4.8" fill="#444" text-anchor="end">
 <tspan x="436" y="343.2">APOD</tspan><tspan x="436" dy="5.95">CFD</tspan><tspan x="436" dy="5.95">TAGLN</tspan><tspan x="436" dy="5.95">ACTA2</tspan>
 <tspan x="436" dy="5.95">S100A9</tspan><tspan x="436" dy="5.95">LYZ</tspan><tspan x="436" dy="5.95">IFI27</tspan><tspan x="436" dy="5.95">ACKR1</tspan>
 <tspan x="436" dy="5.95">LTB</tspan><tspan x="436" dy="5.95">IL7R</tspan><tspan x="436" dy="5.95">KRT10</tspan><tspan x="436" dy="5.95">KRT2</tspan>
 <tspan x="436" dy="5.95">KRT14</tspan><tspan x="436" dy="5.95">KRT5</tspan><tspan x="436" dy="5.95">PLA2G2A</tspan><tspan x="436" dy="5.95">MMP1</tspan>
 <tspan x="436" dy="5.95">CHI3L1</tspan><tspan x="436" dy="5.95">IGHM</tspan><tspan x="436" dy="5.95">IGKC</tspan><tspan x="436" dy="5.95">HLA-DRA</tspan>
 <tspan x="436" dy="5.95">IL1B</tspan><tspan x="436" dy="5.95">GNLY</tspan><tspan x="436" dy="5.95">NKG7</tspan><tspan x="436" dy="5.95">CCL5</tspan>
 <tspan x="436" dy="5.95">RNASE1</tspan><tspan x="436" dy="5.95">C1QA</tspan><tspan x="436" dy="5.95">LST1</tspan><tspan x="436" dy="5.95">FCGR3A</tspan>
 <tspan x="436" dy="5.95">DCT</tspan><tspan x="436" dy="5.95">TYRP1</tspan><tspan x="436" dy="5.95">TPSB2</tspan><tspan x="436" dy="5.95">TPSAB1</tspan>
 <tspan x="436" dy="5.95">DCD</tspan><tspan x="436" dy="5.95">SCGB2A2</tspan><tspan x="436" dy="5.95">CCL21</tspan><tspan x="436" dy="5.95">TFF3</tspan>
 <tspan x="436" dy="5.95">HBB</tspan><tspan x="436" dy="5.95">HBA2</tspan><tspan x="436" dy="5.95">IGLC2</tspan><tspan x="436" dy="5.95">GZMB</tspan>
 <tspan x="436" dy="5.95">JCHAIN</tspan>
</text>
<text transform="translate(701,492) rotate(-90)" font-size="4.5" fill="#444" text-anchor="middle">Expression</text>
<rect x="703" y="477" width="5" height="30" fill="url(#gE)"/>
<g font-size="3.2" fill="#555"><text x="709.5" y="481">2</text><text x="709.5" y="487">1</text><text x="709.5" y="493">0</text><text x="709.5" y="499">-1</text><text x="709.5" y="505">-2</text></g>

<!-- ================= PANEL F ================= -->
<text x="82" y="613" font-size="11" font-weight="bold" fill="#111">f</text>
<use href="#fpanel" xlink:href="#fpanel"/>
<use href="#fpanel" xlink:href="#fpanel" transform="translate(162,0)"/>
<use href="#fpanel" xlink:href="#fpanel" transform="translate(319,2)"/>
<use href="#fpanel" xlink:href="#fpanel" transform="translate(482,2)"/>
<g font-family="Liberation Serif, serif" font-size="12" fill="#333">
 <text x="83" y="636">I</text><text x="245" y="636">II</text><text x="396" y="638">III</text><text x="559" y="638">IV</text>
</g>
<g font-size="6" font-weight="bold" fill="#333" text-anchor="middle">
 <text x="148" y="632">MMP1</text><text x="313" y="632">MMP3</text><text x="469" y="634">CHI3L1</text><text x="634" y="634">TNFAIP6</text>
</g>
<g>
 <ellipse cx="151" cy="716" rx="4" ry="7" fill="#d9964a" opacity="0.7" transform="rotate(25 151 716)"/>
 <ellipse cx="150" cy="714" rx="1.5" ry="4" fill="#a85a20" opacity="0.8" transform="rotate(25 150 714)"/>
 <ellipse cx="315" cy="716" rx="3" ry="4" fill="#e8c070" opacity="0.7"/>
 <ellipse cx="471" cy="721" rx="5" ry="9" fill="#e2a85a" opacity="0.6" transform="rotate(15 471 721)"/>
 <ellipse cx="633" cy="726" rx="6" ry="13" fill="#e8bc70" opacity="0.55"/>
</g>
<g fill="none" stroke="#2b3470" stroke-width="0.9" stroke-dasharray="1.4,1.1">
 <ellipse cx="150" cy="717" rx="7.5" ry="11" transform="rotate(28 150 717)"/>
 <ellipse cx="314" cy="716" rx="7.5" ry="9"/>
 <ellipse cx="470" cy="720" rx="9" ry="13.5" transform="rotate(15 470 720)"/>
 <ellipse cx="632" cy="725.5" rx="10" ry="18"/>
</g>
</svg>
</body></html>
